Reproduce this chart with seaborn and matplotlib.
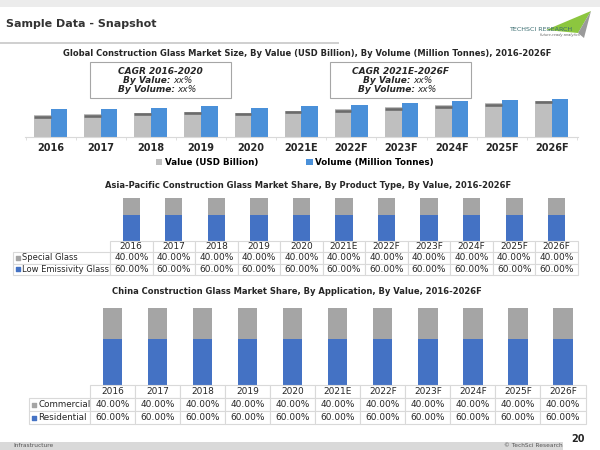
import numpy as np
import pandas as pd
import matplotlib.pyplot as plt
import seaborn as sns
from matplotlib.patches import Rectangle, Polygon
from matplotlib.table import Table

# ============================================================
# data
# ============================================================
years = ["2016", "2017", "2018", "2019", "2020", "2021E",
         "2022F", "2023F", "2024F", "2025F", "2026F"]

# chart 1 has no value axis -> relative bar heights
series_names = ["Value (USD Billion)", "Volume (Million Tonnes)"]
value_usd = [21.7, 22.7, 24.0, 25.4, 24.0, 26.4, 27.7, 29.7, 31.7, 33.7, 36.0]
volume_mt = [27.7, 28.4, 29.4, 30.7, 28.7, 30.7, 32.4, 34.0, 35.7, 37.0, 38.4]

# chart 2 - Asia-Pacific, by product type (%)
product_types = ["Special Glass", "Low Emissivity Glass"]
special_glass = [40.0, 40.0, 40.0, 40.0, 40.0, 40.0, 40.0, 40.0, 40.0, 40.0, 40.0]
low_e_glass = [60.0, 60.0, 60.0, 60.0, 60.0, 60.0, 60.0, 60.0, 60.0, 60.0, 60.0]

# chart 3 - China, by application (%)
applications = ["Commercial", "Residential"]
commercial = [40.0, 40.0, 40.0, 40.0, 40.0, 40.0, 40.0, 40.0, 40.0, 40.0, 40.0]
residential = [60.0, 60.0, 60.0, 60.0, 60.0, 60.0, 60.0, 60.0, 60.0, 60.0, 60.0]

GRAY1, CAP, BLUE1 = "#bfbfbf", "#6b6b6b", "#4a90d9"
GRAY2, BLUE2 = "#a5a5a5", "#4472c4"
TXT = "#262626"
GRID = "#d9d9d9"

W, H = 600, 450
fig = plt.figure(figsize=(6, 4.5), dpi=100)
plt.rcParams['font.family'] = ['DejaVu Sans']


def ax_px(x0, y0, x1, y1):
    return fig.add_axes([x0 / W, 1 - y1 / H, (x1 - x0) / W, (y1 - y0) / H])


def ftext(x, y, s, **kw):
    fig.text(x / W, 1 - y / H, s, **kw)


# ============================================================
# slide frame
# ============================================================
fig.add_artist(Rectangle((0, 1 - 6.5 / H), 1, 6.5 / H, transform=fig.transFigure,
                         color="#ececec", lw=0))
ftext(6, 24, "Sample Data - Snapshot", fontsize=8, weight='bold', color="#333333",
      va='center')
fig.add_artist(Rectangle((0, 1 - 43.5 / H), 339 / W, 1.5 / H, transform=fig.transFigure,
                         color="#d0d0d0", lw=0))

# logo
fig.add_artist(Polygon([(546 / W, 1 - 30 / H), (591 / W, 1 - 11 / H), (578 / W, 1 - 33 / H)],
                       closed=True, transform=fig.transFigure, color="#8cc63f", lw=0))
fig.add_artist(Polygon([(578 / W, 1 - 33 / H), (591 / W, 1 - 11 / H), (584 / W, 1 - 38 / H)],
                       closed=True, transform=fig.transFigure, color="#9a9a9a", lw=0))
ftext(541, 29.5, "TECHSCI RESEARCH", fontsize=4.6, color="#3a6d70", ha='center', va='center')
ftext(560, 35, "future-ready analytics", fontsize=2.6, color="#666666", ha='center',
      va='center', style='italic')

# footer
fig.add_artist(Rectangle((0, 0), 563 / W, 8.3 / H, transform=fig.transFigure,
                         color="#d9d9d9", lw=0))
ftext(13, 445.5, "Infrastructure", fontsize=4.2, color="#555555", va='center')
ftext(533, 445.5, "© TechSci Research", fontsize=4.2, color="#555555", ha='center', va='center')
ftext(578, 439, "20", fontsize=7, weight='bold', color=TXT, ha='center', va='center')

# ============================================================
# 1. Global market size, value vs volume
# ============================================================
ftext(307, 53.5, "Global Construction Glass Market Size, By Value (USD Billion), "
      "By Volume (Million Tonnes), 2016-2026F",
      fontsize=6.0, weight='bold', color=TXT, ha='center', va='center')

df1 = pd.DataFrame({
    "Year": years * 2,
    "Size": value_usd + volume_mt,
    "Series": [series_names[0]] * len(years) + [series_names[1]] * len(years),
})

ax1 = ax_px(25, 62, 578, 137)
sns.barplot(data=df1, x="Year", y="Size", hue="Series", palette=[GRAY1, BLUE1],
            width=0.66, saturation=1, ax=ax1)
ax1.set_ylim(0, 75)
ax1.set_xlim(-0.51, 10.52)
for bar in ax1.containers[0]:
    top = bar.get_height()
    ax1.plot([bar.get_x(), bar.get_x() + bar.get_width()], [top - 1.3, top - 1.3],
             color=CAP, lw=1.9, solid_capstyle='butt')
for s in ["top", "left", "right"]:
    ax1.spines[s].set_visible(False)
ax1.spines["bottom"].set_color(GRID)
ax1.set_yticks([])
ax1.set_xlabel("")
ax1.set_ylabel("")
ax1.set_xticks(np.arange(-0.5, len(years), 1), minor=True)
ax1.tick_params(axis='x', which='major', length=0, pad=4.5, labelsize=7, labelcolor=TXT)
ax1.tick_params(axis='x', which='minor', length=2.5, color=GRID)
for lbl in ax1.get_xticklabels():
    lbl.set_fontweight('bold')
sns.move_legend(ax1, "center", bbox_to_anchor=((295 - 25) / 553, (137 - 162.7) / 75),
                ncol=2, frameon=False, title=None, handlelength=0.7, handleheight=0.7,
                handletextpad=0.3, columnspacing=5.5,
                prop={'weight': 'bold', 'size': 6.3})

# CAGR boxes
for x0, x1, head in [(90, 231, "CAGR 2016-2020"), (330, 471, "CAGR 2021E-2026F")]:
    fig.add_artist(Rectangle((x0 / W, 1 - 97.7 / H), (x1 - x0) / W, 36 / H,
                             transform=fig.transFigure, fc="white", ec="#a6a6a6", lw=0.8))
    cx = (x0 + x1) / 2
    ftext(cx, 71, head, fontsize=6.5, weight='bold', style='italic', color=TXT,
          ha='center', va='center')
    for y, key, split in [(80.7, "By Value:", cx + 10), (90, "By Volume:", cx + 14)]:
        ftext(split, y, key, fontsize=6.5, weight='bold', style='italic', color=TXT,
              ha='right', va='center')
        ftext(split + 3, y, "xx%", fontsize=6.5, style='italic', color=TXT,
              ha='left', va='center')


# ============================================================
# 2 & 3. stacked share bars with data table underneath
# ============================================================
def share_chart(bar_box, table_box, label_px, names, top_vals, bottom_vals, bar_w, pad,
                key_x, label_fs):
    ax = ax_px(*bar_box)
    totals = [a + b for a, b in zip(top_vals, bottom_vals)]
    sns.barplot(x=years, y=totals, color=GRAY2, width=bar_w, saturation=1, ax=ax)
    sns.barplot(x=years, y=bottom_vals, color=BLUE2, width=bar_w, saturation=1, ax=ax)
    ax.set_ylim(0, 100)
    ax.set_xlim(-0.5, len(years) - 0.5)
    ax.axis('off')

    tax = ax_px(*table_box)
    tax.axis('off')
    tw = table_box[2] - table_box[0]
    lab_w = label_px / tw
    col_w = (1 - lab_w) / len(years)
    tb = Table(tax, bbox=[0, 0, 1, 1])
    rows = [[""] + years,
            [names[0]] + [f"{v:.2f}%" for v in top_vals],
            [names[1]] + [f"{v:.2f}%" for v in bottom_vals]]
    for r, row in enumerate(rows):
        for c, txt in enumerate(row):
            cell = tb.add_cell(r, c, width=lab_w if c == 0 else col_w, height=1 / 3,
                               text=txt, loc='left' if c == 0 else 'center',
                               edgecolor=GRID, facecolor='white')
            cell.set_linewidth(0.8)
            cell.get_text().set_color(TXT)
            cell.get_text().set_fontsize(label_fs if c == 0 else 6.5)
            if c == 0:
                cell.PAD = pad
            if r == 0 and c == 0:
                cell.visible_edges = 'open'
    tb.auto_set_font_size(False)
    tax.add_table(tb)
    # legend keys in the row label cells
    for i, col in enumerate([GRAY2, BLUE2]):
        tax.scatter([(key_x - table_box[0]) / tw], [(1.5 - i) / 3],
                    marker='s', s=7, color=col, transform=tax.transAxes, clip_on=False)


ftext(308, 185, "Asia-Pacific Construction Glass Market Share, By Product Type, By Value, 2016-2026F",
      fontsize=6.0, weight='bold', color=TXT, ha='center', va='center')
share_chart((110, 198.3, 578, 241), (12.7, 241, 578, 275), 97.3,
            product_types, special_glass, low_e_glass, 0.405, 0.092, 17.6, 6.0)

ftext(297, 291.7, "China Construction Glass Market Share, By Application, By Value, 2016-2026F",
      fontsize=6.0, weight='bold', color=TXT, ha='center', va='center')
share_chart((90, 308.3, 585.5, 385), (29, 385, 585.5, 424), 61,
            applications, commercial, residential, 0.43, 0.148, 33.5, 6.3)

plt.savefig("out.png", dpi=100)
plt.close()
